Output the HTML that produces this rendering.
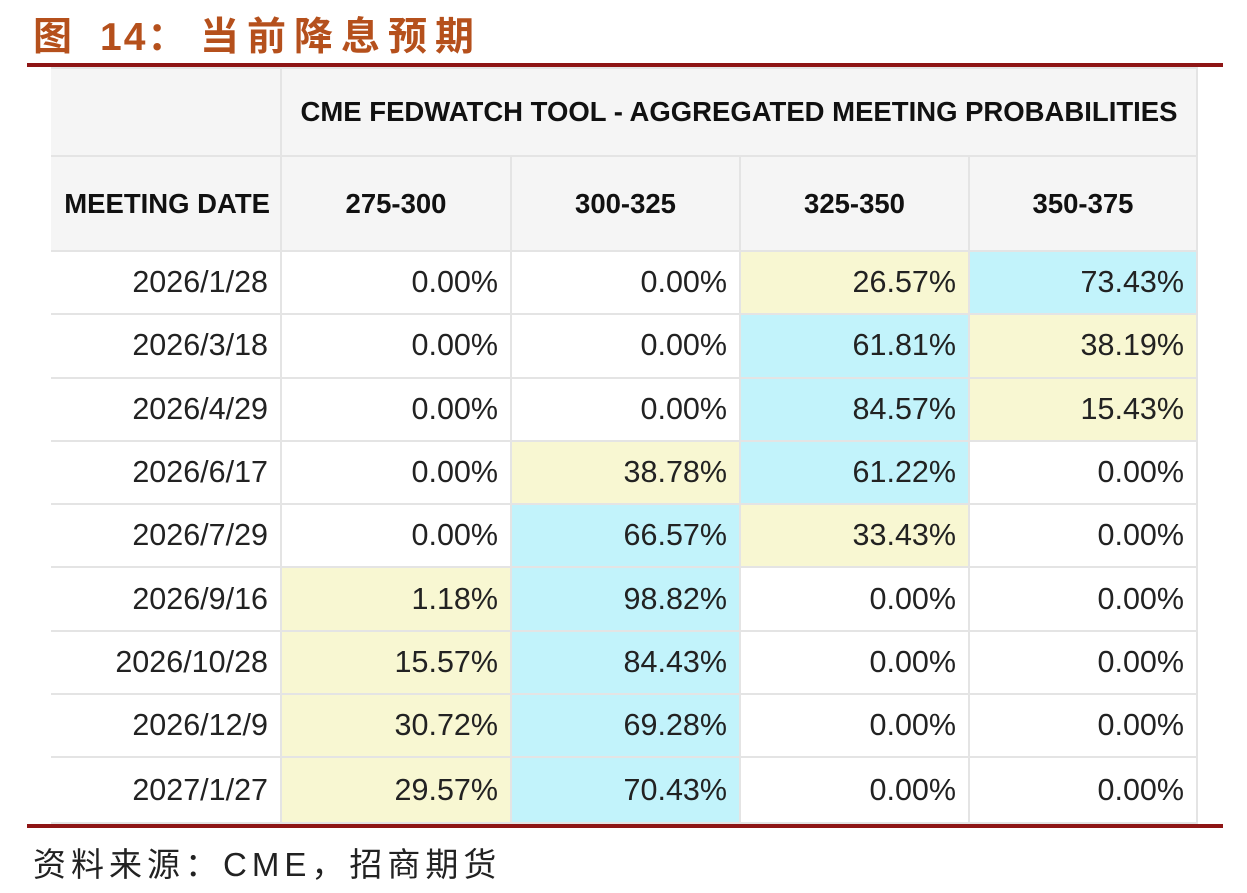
<!DOCTYPE html>
<html><head><meta charset="utf-8"><style>
body{margin:0;width:1247px;height:893px;background:#fff;position:relative;overflow:hidden;font-family:"Liberation Sans","Noto Sans CJK SC",sans-serif;}
.title{position:absolute;left:33px;top:6px;font-size:39px;font-weight:bold;color:#b5501c;white-space:nowrap;}
.title span{position:absolute;top:0;}
.rule{position:absolute;left:27px;width:1196px;height:4px;background:#8e1515;}
table{position:absolute;left:51px;top:67px;border-collapse:collapse;table-layout:fixed;}
td{border:2px solid #e4e4e4;padding:0 12px;font-size:30.5px;color:#222;text-align:right;box-sizing:border-box;white-space:nowrap;}
.h td{background:#f5f5f5;font-weight:bold;font-size:27.5px;text-align:center;color:#111;padding:0;}
.y{background:#f8f7d2;} .c{background:#c2f3fb;}
.src{position:absolute;left:33px;top:838px;font-size:33px;color:#222;white-space:nowrap;letter-spacing:5px;}
</style></head><body>
<div class="title"><span style="left:0">图</span><span style="left:67px;letter-spacing:2px">14：</span><span style="left:167px;letter-spacing:8px">当前降息预期</span></div>
<div class="rule" style="top:63px"></div>
<table>
<colgroup><col style="width:230px"><col style="width:230px"><col style="width:229px"><col style="width:229px"><col style="width:228px"></colgroup>
<tr class="h" style="height:88px"><td style="border-left:none"></td><td colspan="4">CME FEDWATCH TOOL - AGGREGATED MEETING PROBABILITIES</td></tr>
<tr class="h" style="height:95px"><td style="border-left:none;text-align:right;padding-right:10px">MEETING DATE</td><td>275-300</td><td>300-325</td><td>325-350</td><td>350-375</td></tr>
<tbody id="tb"></tbody>
</table>
<div class="rule" style="top:824px"></div>
<div class="src">资料来源：CME，招商期货</div>
<script>
const dates=["2026/1/28","2026/3/18","2026/4/29","2026/6/17","2026/7/29","2026/9/16","2026/10/28","2026/12/9","2027/1/27"];
const p275=[0,0,0,0,0,1.18,15.57,30.72,29.57];
const p300=[0,0,0,38.78,66.57,98.82,84.43,69.28,70.43];
const p325=[26.57,61.81,84.57,61.22,33.43,0,0,0,0];
const p350=[73.43,38.19,15.43,0,0,0,0,0,0];
const tb=document.getElementById('tb');
dates.forEach((d,i)=>{
  const tr=document.createElement('tr');
  tr.style.height=(i==8?'66px':'63.3px');
  
  
  const td0=document.createElement('td');
  td0.textContent=d;td0.style.borderLeft='none';
  
  
  tr.appendChild(td0);
  const vals=[p275[i],p300[i],p325[i],p350[i]];
  const nz=vals.map((v,k)=>[v,k]).filter(a=>a[0]>0).sort((a,b)=>b[0]-a[0]);
  vals.forEach((v,k)=>{
    const td=document.createElement('td');
    td.textContent=v.toFixed(2)+'%';
    if(nz.length&&nz[0][1]==k)td.className='c';
    else if(nz.length>1&&nz[1][1]==k)td.className='y';
    
    
    tr.appendChild(td);
  });
  tb.appendChild(tr);
});
</script>
</body></html>
